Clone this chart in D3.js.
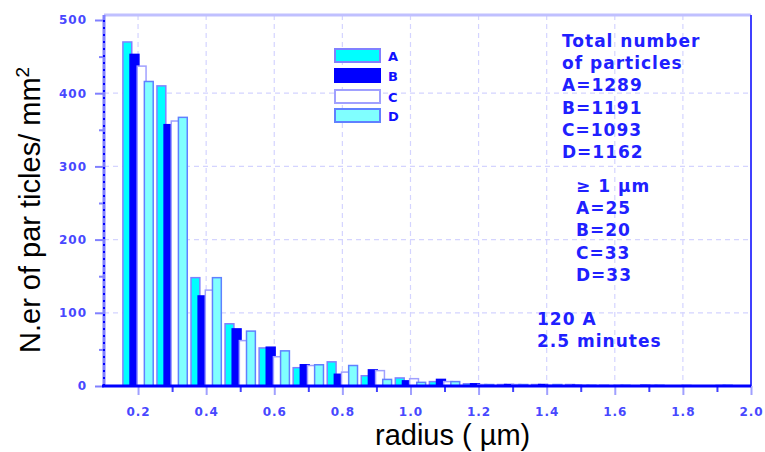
<!DOCTYPE html>
<html><head><meta charset="utf-8">
<script src="https://cdn.jsdelivr.net/npm/d3@7"></script>
<style>body{margin:0;background:#fff} svg{display:block}</style>
</head><body>
<svg id="c" width="765" height="452"></svg>
<script>
// ---- data ----
const radius = [0.2,0.3,0.4,0.5,0.6,0.7,0.8,0.9,1.0,1.1,1.2,1.3,1.4,1.5,1.6,1.7,1.8,1.9,2.0];
const seriesNames = ["A","B","C","D"];
const valuesA = [470,410,148,85,52,25,33,14,11,6,3,2,2,2,1,0,0,0,0];
const valuesB = [453,357,123,78,53,29,16,22,7,9,3,2,2,1,0,1,0,0,0];
const valuesC = [437,362,131,62,40,28,19,21,10,6,2,2,1,1,1,1,1,1,0];
const valuesD = [416,367,148,75,48,29,28,9,5,6,2,2,2,1,1,1,0,1,1];
const xTickValues = [0.2,0.4,0.6,0.8,1.0,1.2,1.4,1.6,1.8,2.0];
const xTickLabels = ["0.2","0.4","0.6","0.8","1.0","1.2","1.4","1.6","1.8","2.0"];
const xMinorTicks = [0.3,0.5,0.7,0.9,1.1,1.3,1.5,1.7,1.9];
const yTickValues = [0,100,200,300,400,500];
const yMinorTicks = [50,150,250,350,450];
const totalLines = ["Total number","of particles","A=1289","B=1191","C=1093","D=1162"];
const over1Lines = ["\u2265 1 \u00b5m","A=25","B=20","C=33","D=33"];
const conditionLines = ["120 A","2.5 minutes"];

const series = [valuesA, valuesB, valuesC, valuesD];
const fills = ["#00ffff","#0000ff","#ffffff","#80ffff"];
const strokes = ["#8080ff","#0000ff","#a0a0ff","#6080ff"];

const svg = d3.select("#c");
const L = 104, R = 751, T = 15, B = 386;
const x = d3.scaleLinear().domain([0.1, 2.0]).range([L, R]);
const y = d3.scaleLinear().domain([0, 500]).range([B, 20]);

svg.append("defs").append("clipPath").attr("id","plot")
  .append("rect").attr("x",L).attr("y",T).attr("width",R-L).attr("height",B-T);

// grid
const grid = svg.append("g").attr("stroke","#d4d4ff").attr("stroke-width",1.2).attr("stroke-dasharray","5,4");
grid.selectAll("line.v").data(xTickValues.slice(0,-1)).join("line").attr("class","v")
  .attr("x1", d=>x(d)).attr("x2", d=>x(d)).attr("y1", T).attr("y2", B);
grid.selectAll("line.h").data(yTickValues.slice(1,-1)).join("line").attr("class","h")
  .attr("x1", L).attr("x2", R).attr("y1", d=>y(d)).attr("y2", d=>y(d));

// frame
svg.append("line").attr("x1",L).attr("x2",R).attr("y1",T).attr("y2",T).attr("stroke","#c0c0ff").attr("stroke-width",3);

// bars
const off = 0.021, bw = 0.026;
const barLayer = svg.append("g").attr("clip-path","url(#plot)");
series.forEach((vals, j) => {
  barLayer.append("g").selectAll("rect").data(radius.map((r,i)=>({r, v: vals[i]}))).join("rect")
    .attr("x", d => x(d.r + (j-1.5)*off - bw/2))
    .attr("width", d => x(d.r + bw/2) - x(d.r - bw/2))
    .attr("y", d => y(d.v))
    .attr("height", d => y(0) - y(d.v))
    .attr("fill", fills[j]).attr("stroke", strokes[j]).attr("stroke-width", 1.5);
});
svg.append("line").attr("x1",R).attr("x2",R).attr("y1",T).attr("y2",B).attr("stroke","#4040ff").attr("stroke-width",2);

// axes
const tickFont = g => g.selectAll("text").attr("font-family","DejaVu Sans").attr("font-weight","bold")
  .attr("font-size",12).attr("fill","#4848ff").attr("letter-spacing","1px");
const xa = svg.append("g").attr("transform",`translate(0,${B})`)
  .call(d3.axisBottom(x).tickValues(xTickValues).tickSize(9).tickSizeOuter(0).tickPadding(12)
    .tickFormat((d,i)=>xTickLabels[i]));
xa.select(".domain").remove();
xa.selectAll(".tick line").attr("stroke","#a0a0ff").attr("stroke-width",2);
xa.call(tickFont);
const xm = svg.append("g").attr("transform",`translate(0,${B})`)
  .call(d3.axisBottom(x).tickValues(xMinorTicks).tickSize(6).tickFormat(""));
xm.select(".domain").remove();
xm.selectAll(".tick line").attr("stroke","#4040ff").attr("stroke-width",2);

const ya = svg.append("g").attr("transform",`translate(${L},0)`)
  .call(d3.axisLeft(y).tickValues(yTickValues).tickSize(9).tickSizeOuter(0).tickPadding(8));
ya.select(".domain").remove();
ya.selectAll(".tick line").attr("stroke","#8080ff").attr("stroke-width",2);
ya.call(tickFont);
const ym = svg.append("g").attr("transform",`translate(${L},0)`)
  .call(d3.axisLeft(y).tickValues(yMinorTicks).tickSize(5).tickFormat(""));
ym.select(".domain").remove();
ym.selectAll(".tick line").attr("stroke","#8080ff").attr("stroke-width",2);
svg.append("line").attr("x1",L).attr("x2",L).attr("y1",B).attr("y2",T)
  .attr("stroke","#8080ff").attr("stroke-width",3);
svg.append("line").attr("x1",L).attr("x2",L).attr("y1",B).attr("y2",T)
  .attr("stroke","#0000ff").attr("stroke-width",2).attr("stroke-dasharray","2,5");
// x-axis baseline on top of bars
svg.append("line").attr("x1",L-2).attr("x2",R).attr("y1",B).attr("y2",B).attr("stroke","#0000ff").attr("stroke-width",3);

// legend
const legY = [49, 69, 90, 109];
const lg = svg.append("g");
seriesNames.forEach((n,j)=>{
  lg.append("rect").attr("x",335).attr("y",legY[j]).attr("width",45).attr("height",13)
    .attr("fill",fills[j]).attr("stroke",strokes[j]).attr("stroke-width",2);
  lg.append("text").attr("x",388).attr("y",legY[j]+12).text(n)
    .attr("font-family","DejaVu Sans").attr("font-weight","bold").attr("font-size",13).attr("fill","#1010ff");
});

// annotations
const ann = (lines, x0, y0, dy) => {
  const g = svg.append("g").attr("font-family","DejaVu Sans").attr("font-weight","bold")
    .attr("font-size",17).attr("fill","#2020ff").attr("letter-spacing","1px");
  lines.forEach((t,i)=> g.append("text").attr("x",x0).attr("y",y0+i*dy).text(t));
};
ann(totalLines, 562, 47, 22.2);
ann(over1Lines, 576, 192, 22.2);
ann(conditionLines, 537, 325, 22);

// axis titles
svg.append("text").attr("x",375).attr("y",445).text("radius ( \u00b5m)")
  .attr("font-family","Liberation Sans, Arial").attr("font-size",29).attr("fill","#000");
const yt = svg.append("text").attr("transform","translate(40,353) rotate(-90)")
  .attr("font-family","Liberation Sans, Arial").attr("font-size",29).attr("fill","#000");
yt.append("tspan").text("N.er of par ticles/ mm");
yt.append("tspan").attr("dy",-11).attr("font-size",19).text("2");
</script>
</body></html>
